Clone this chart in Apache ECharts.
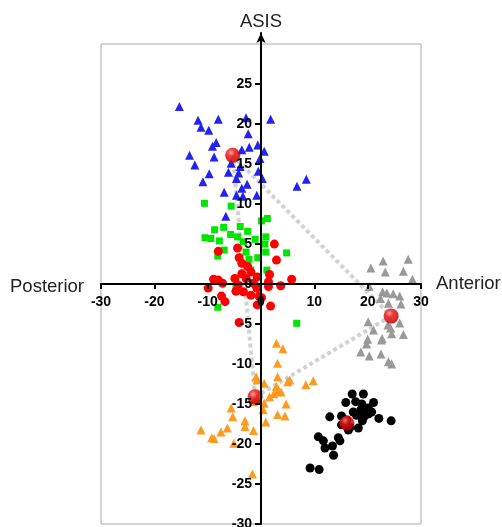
<!DOCTYPE html>
<html>
<head>
<meta charset="utf-8">
<script src="https://cdn.jsdelivr.net/npm/echarts@6/dist/echarts.min.js"></script>
<style>
  html, body { margin: 0; padding: 0; background: #fff; }
  #chart { width: 502px; height: 527px; }
</style>
</head>
<body>
<div id="chart"></div>
<script>
// point groups, [anterior/posterior, ASIS]
var blue = [[-15.3,22.2],[-11.8,20.5],[-8.0,20.6],[-11.25,19.6],[-9.8,19.25],[-2.8,20.8],[1.8,20.6],[-2.4,18.8],[-8.4,17.7],[-9.1,17.25],[-13.4,16.1],[-8.8,15.9],[-12.4,14.9],[-3.6,16.8],[-2.2,17.1],[-0.6,17.4],[0.6,16.6],[-0.2,15.7],[-5.6,15.1],[-3.9,14.7],[-9.7,13.8],[-6.1,14.0],[-4.2,13.9],[-0.5,14.1],[0.25,13.2],[-10.9,12.8],[-4.6,13.2],[-2.6,12.5],[-3.6,12.0],[-6.9,11.5],[-4.6,11.1],[-3.4,11.0],[-0.8,11.1],[6.75,12.25],[8.5,13.1],[-6.6,8.5]]
var green = [[-10.6,10.1],[-5.6,9.75],[0.1,7.9],[1.2,8.2],[-8.7,6.8],[-7.0,7.1],[-3.9,7.2],[-2.5,6.6],[-10.5,5.8],[-9.4,5.7],[-7.8,5.4],[-5.7,6.2],[-4.4,5.9],[-3.3,5.3],[-1.1,5.6],[0.9,5.9],[0.75,5.0],[-6.9,4.25],[-8.1,3.5],[-2.8,4.0],[0.9,4.0],[4.8,3.9],[-2.25,3.1],[-0.6,3.3],[1.1,1.75],[-1.9,1.75],[-4.7,-0.5],[-8.1,-2.9],[6.7,-4.9]]
var red = [[2.5,5.0],[2.9,3.0],[-8.0,4.1],[-4.4,4.5],[-4.1,3.3],[-3.6,2.6],[1.6,1.2],[5.75,0.6],[3.7,-0.2],[-8.9,0.6],[-8.0,0.5],[-7.2,0.1],[-9.9,-0.5],[-3.6,1.3],[-1.9,1.5],[-0.7,0.9],[-4.9,0.7],[-2.8,0.7],[1.4,0.3],[1.4,-0.3],[-4.7,-0.9],[-3.3,-0.95],[-1.9,-1.4],[-0.8,-0.5],[-0.4,-1.5],[-7.4,-1.5],[-6.75,-2.2],[-0.7,-2.6],[1.8,-2.75],[-4.1,-4.8],[-4.25,-0.1],[-1.4,0.1],[0.1,-1.7],[-2.5,2.2]]
var gray = [[22.9,2.9],[27.6,3.1],[20.6,2.0],[23.3,1.5],[26.7,1.6],[28.4,0.6],[20.3,-0.3],[22.8,-0.95],[23.6,-1.1],[24.8,-1.2],[26.0,-1.5],[22.4,-1.8],[23.9,-2.4],[26.25,-2.5],[20.1,-4.7],[21.1,-5.75],[23.8,-5.1],[26.0,-4.85],[24.5,-6.2],[26.7,-6.3],[22.7,-6.8],[20.0,-6.9],[19.8,-7.5],[18.7,-8.5],[20.3,-9.0],[22.5,-8.75],[23.9,-9.7],[24.5,-10.0],[24.3,-5.5],[22.6,-7.0]]
var orange = [[2.9,-7.4],[4.1,-8.1],[3.1,-9.9],[-0.9,-11.6],[-0.7,-12.0],[3.1,-11.6],[0.6,-12.4],[5.4,-12.0],[5.0,-12.2],[2.9,-12.8],[8.4,-12.6],[9.8,-12.1],[3.25,-13.25],[3.75,-13.5],[2.4,-13.7],[1.6,-14.1],[-0.8,-14.3],[-1.4,-14.7],[0.6,-14.9],[4.7,-15.0],[-5.6,-15.5],[0.4,-15.7],[-5.3,-16.6],[3.1,-16.3],[4.5,-16.5],[-3.0,-17.1],[0.9,-17.25],[-3.0,-17.8],[-1.4,-18.3],[-6.3,-18.0],[-7.5,-18.5],[-11.25,-18.25],[-9.25,-19.2],[-8.8,-19.3],[-5.1,-19.9],[-1.6,-23.75]]
var black = [[17.1,-13.75],[19.2,-13.75],[17.75,-14.7],[15.9,-14.8],[18.9,-15.0],[21.1,-14.8],[20.1,-15.5],[17.3,-16.0],[18.7,-15.75],[20.75,-16.0],[15.1,-16.5],[17.9,-16.4],[19.3,-16.6],[22.1,-16.8],[12.9,-16.6],[24.4,-17.1],[19.0,-17.1],[15.1,-17.6],[16.7,-17.9],[18.25,-18.0],[16.4,-18.25],[10.75,-19.1],[14.5,-19.2],[14.8,-19.6],[11.7,-19.6],[13.4,-20.25],[12.0,-20.5],[13.6,-21.4],[9.2,-23.0],[10.9,-23.2],[16.1,-17.0],[20.1,-16.25]]
// group means (big red balls): blue, gray, orange, black
var means = [[-5.3,16.1],[24.4,-4.0],[-1.1,-14.1],[16.1,-17.4]]
// dotted links between means (indexes into means)
var links = [[0, 2], [0, 1], [2, 1]]
var xTicks = [-30, -20, -10, 0, 10, 20, 30]
var yTicks = [-30, -25, -20, -15, -10, -5, 0, 5, 10, 15, 20, 25]

var chart = echarts.init(document.getElementById('chart'))
var font = 'Liberation Sans'

// plot area in pixels; the axes cross at (0,0) so they are shifted inwards
var plot = { left: 101, right: 81, top: 33, bottom: 3 }
var xMin = -30, xMax = 30, yMin = -30, yMax = 31.4
var plotW = 502 - plot.left - plot.right
var plotH = 527 - plot.top - plot.bottom
var yAxisShift = -(0 - xMin) / (xMax - xMin) * plotW
var xAxisShift = -(0 - yMin) / (yMax - yMin) * plotH

function dots(data, symbol, size, color) {
  return {
    type: 'scatter',
    data: data,
    symbol: symbol,
    symbolSize: size,
    itemStyle: { color: color, opacity: 1 },
    z: 3,
    silent: true
  }
}

var series = []
links.forEach(function (l) {
  series.push({
    type: 'line',
    data: [means[l[0]], means[l[1]]],
    symbol: 'none',
    lineStyle: { color: '#d2d2d2', width: 4, type: [4, 3], cap: 'butt' },
    z: 2,
    silent: true
  })
})
series.push(dots(green, 'rect', 7, '#00e600'))
series.push(dots(blue, 'triangle', 9, '#2222f5'))
series.push(dots(red, 'circle', 9, '#ff0000'))
series.push(dots(gray, 'triangle', 9, '#999999'))
series.push(dots(orange, 'triangle', 9, '#ff9a1f'))
series.push(dots(black, 'circle', 9, '#000000'))
series.push({
  type: 'scatter',
  data: means,
  symbolSize: 15,
  itemStyle: {
    color: {
      type: 'radial', x: 0.38, y: 0.32, r: 0.75,
      colorStops: [
        { offset: 0, color: '#ff9a9a' },
        { offset: 0.35, color: '#ff1010' },
        { offset: 1, color: '#b00000' }
      ]
    },
    shadowColor: 'rgba(0,0,0,0.25)',
    shadowBlur: 2
  },
  z: 5,
  silent: true
})

chart.setOption({
  backgroundColor: '#fff',
  animation: false,
  title: {
    text: 'Posterior',
    left: 10,
    top: 277,
    padding: 0,
    textStyle: { fontFamily: font, fontSize: 18.5, fontWeight: 'normal', color: '#222' }
  },
  grid: [
    { left: plot.left, right: plot.right, top: plot.top, bottom: plot.bottom, outerBoundsMode: 'none', containLabel: false },
    { left: plot.left, right: plot.right, top: 44, bottom: plot.bottom, outerBoundsMode: 'none', containLabel: false, show: true, borderColor: '#aaa', borderWidth: 1 }
  ],
  xAxis: [{
    gridIndex: 0,
    type: 'value',
    position: 'bottom',
    offset: xAxisShift,
    z: 10,
    min: xMin,
    max: xMax,
    interval: 10,
    name: 'Anterior',
    nameLocation: 'end',
    nameGap: 15,
    nameTextStyle: { fontFamily: font, fontSize: 18.5, color: '#222', verticalAlign: 'middle', padding: [3, 0, 0, 0] },
    axisLine: { onZero: false, lineStyle: { color: '#000', width: 2 } },
    axisTick: { show: true, length: 5, lineStyle: { color: '#000', width: 2 } },
    axisLabel: { margin: 11, customValues: xTicks, hideOverlap: false, showMinLabel: true, showMaxLabel: true, fontFamily: font, fontSize: 14, fontWeight: 'bold', color: '#000' },
    splitLine: { show: false }
  }, {
    gridIndex: 1, type: 'value', min: -30, max: 30, show: false
  }],
  yAxis: [{
    gridIndex: 0,
    type: 'value',
    position: 'left',
    offset: yAxisShift,
    z: 10,
    min: yMin,
    max: yMax,
    interval: 5,
    name: 'ASIS',
    nameLocation: 'end',
    nameGap: 2,
    nameTextStyle: { fontFamily: font, fontSize: 18.5, color: '#222' },
    axisLine: { onZero: false, symbol: ['none', 'arrow'], symbolSize: [7, 10], lineStyle: { color: '#000', width: 2 } },
    axisTick: { show: true, length: 6, customValues: yTicks, lineStyle: { color: '#000', width: 2 } },
    axisLabel: { margin: 9, customValues: yTicks, hideOverlap: false, fontFamily: font, fontSize: 14, fontWeight: 'bold', color: '#000' },
    splitLine: { show: false }
  }, {
    gridIndex: 1, type: 'value', min: -30, max: 30, show: false
  }],
  series: series
})
</script>
</body>
</html>
